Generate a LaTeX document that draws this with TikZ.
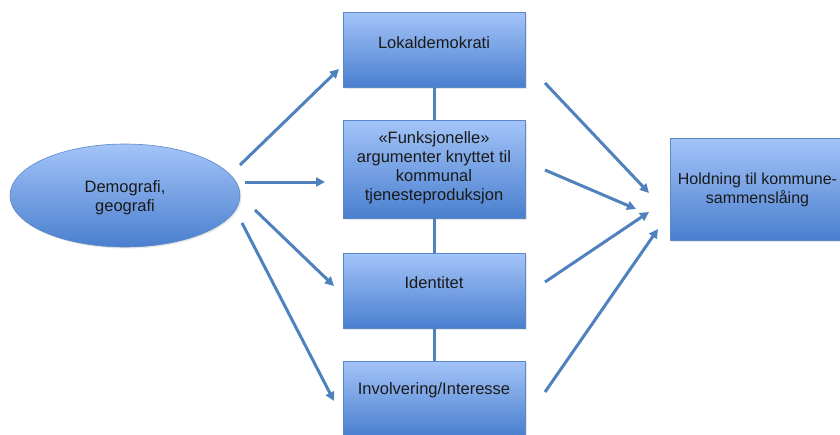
\documentclass[tikz,border=0pt]{standalone}
\usepackage{fontspec}
\setmainfont{Liberation Sans}
\usetikzlibrary{arrows.meta,shapes.geometric,shadows}
\definecolor{arr}{HTML}{4F81BD}
\definecolor{boxtop}{HTML}{A3C4F8}
\definecolor{boxbot}{HTML}{4A7FCF}
\definecolor{boxline}{HTML}{5A88C8}
\definecolor{txt}{HTML}{1A1A1A}
\begin{document}
\begin{tikzpicture}[x=1pt,y=-1pt,
  box/.style={draw=boxline, line width=0.6pt, top color=boxtop, bottom color=boxbot,
    minimum width=182pt, inner sep=0pt,
    drop shadow={shadow xshift=1.5pt, shadow yshift=-1.5pt, opacity=0.2}},
  oval/.style={ellipse, draw=boxline, line width=0.6pt, top color=boxtop, bottom color=boxbot,
    minimum width=230pt, minimum height=103pt, inner sep=0pt,
    drop shadow={shadow xshift=1.5pt, shadow yshift=-1.5pt, opacity=0.2}},
  lbl/.style={text=txt, font=\fontsize{16.5}{19}\selectfont, align=center, inner sep=0pt},
  arrow/.style={draw=arr, line width=3pt, -{Triangle[length=9pt,width=9pt]}},
  link/.style={draw=arr, line width=3pt}]
\useasboundingbox (0,0) rectangle (840,434);
\clip (0,0) rectangle (840,434);
% boxes
\node[box, minimum height=75pt] (l) at (434,49.5) {};
\node[box, minimum height=98pt] (f) at (434,169) {};
\node[box, minimum height=75pt] (i) at (434,290.5) {};
\node[box, minimum height=75pt] (v) at (434,398.5) {};
\node[box, minimum width=180pt, minimum height=102pt] (h) at (760,189) {};
\node[oval] (e) at (125,195.5) {};
% vertical links
\draw[link] (l.south) -- (f.north);
\draw[link] (f.south) -- (i.north);
\draw[link] (i.south) -- (v.north);
% labels
\node[lbl] (lt) at ([yshift=7pt]l.center) {Lokaldemokrati};
\node[lbl] (ft) at ([yshift=1pt]f.center) {«Funksjonelle»\\argumenter knyttet til\\kommunal\\tjenesteproduksjon};
\node[lbl] (it) at ([yshift=8pt]i.center) {Identitet};
\node[lbl] (vt) at ([yshift=8pt]v.center) {Involvering/Interesse};
\node[lbl, font=\fontsize{16}{19}\selectfont] (ht) at ([xshift=-2.5pt,yshift=-1pt]h.center) {Holdning til kommune-\\sammenslåing};
\node[lbl] (et) at ([yshift=-2pt]e.center) {Demografi,\\geografi};
% arrow end points
\coordinate (a1s) at (240,165); \coordinate (a1e) at (339,69);
\coordinate (a2s) at (245,182); \coordinate (a2e) at (325,182);
\coordinate (a3s) at (255,210); \coordinate (a3e) at (334,286);
\coordinate (a4s) at (242,223); \coordinate (a4e) at (334,401);
\coordinate (b1s) at (545,83);  \coordinate (b1e) at (649,193);
\coordinate (b2s) at (545,170); \coordinate (b2e) at (636,209);
\coordinate (b3s) at (545,282); \coordinate (b3e) at (649,212);
\coordinate (b4s) at (545,392); \coordinate (b4e) at (658,229);
\draw[arrow] (a1s) -- (a1e);
\draw[arrow] (a2s) -- (a2e);
\draw[arrow] (a3s) -- (a3e);
\draw[arrow] (a4s) -- (a4e);
\draw[arrow] (b1s) -- (b1e);
\draw[arrow] (b2s) -- (b2e);
\draw[arrow] (b3s) -- (b3e);
\draw[arrow] (b4s) -- (b4e);
\end{tikzpicture}
\end{document}
